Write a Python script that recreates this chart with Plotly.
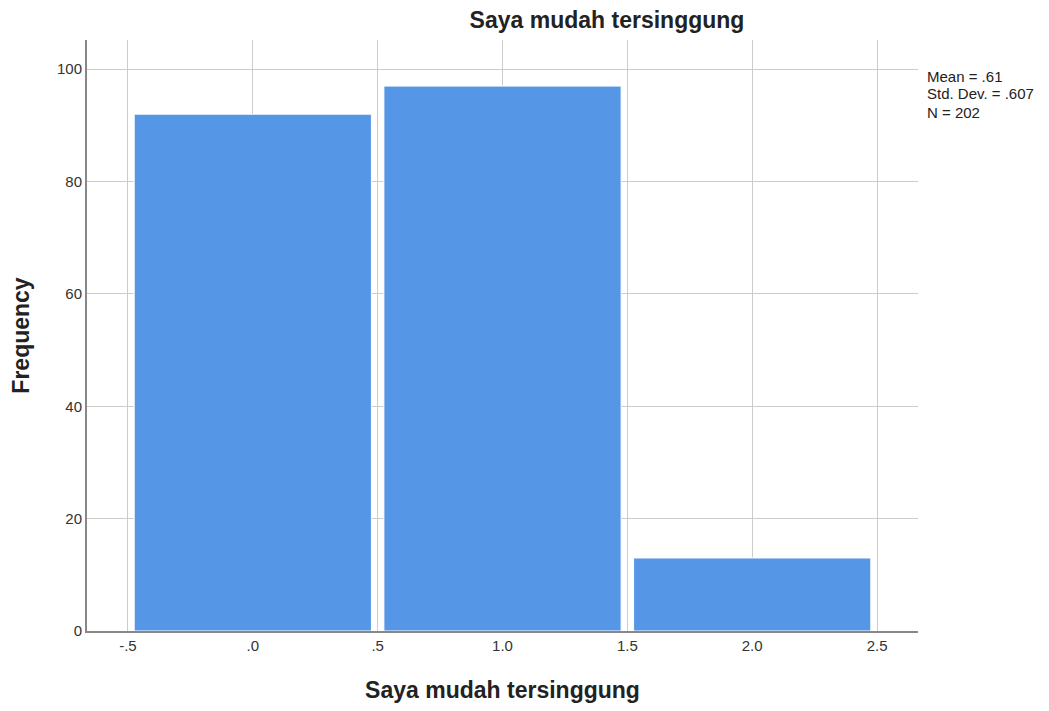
import plotly.graph_objects as go

categories = [0, 1, 2]
frequencies = [92, 97, 13]
x_tick_vals = [-0.5, 0, 0.5, 1, 1.5, 2, 2.5]
x_tick_text = ["-.5", ".0", ".5", "1.0", "1.5", "2.0", "2.5"]
y_tick_vals = [0, 20, 40, 60, 80, 100]
stats_lines = ["Mean = .61", "Std. Dev. = .607", "N = 202"]
title = "Saya mudah tersinggung"

fig = go.Figure()
fig.add_trace(go.Bar(
    x=categories, y=frequencies, width=0.95,
    marker=dict(color="#5596E6", line=dict(color="white", width=1)),
))

font_family = "Liberation Sans, Arial, sans-serif"
stat_ys = [0.939, 0.909, 0.878]
annotations = [
    dict(text=t, xref="paper", yref="paper", x=1.009, y=yy,
         xanchor="left", yanchor="middle", align="left", showarrow=False,
         font=dict(size=15, color="#222222"))
    for t, yy in zip(stats_lines, stat_ys)
]

fig.update_layout(
    width=1049, height=711,
    margin=dict(l=79, r=139, t=32, b=88, autoexpand=False),
    plot_bgcolor="white", paper_bgcolor="white",
    showlegend=False,
    font=dict(family=font_family, size=15, color="#333333"),
    title=dict(text="<b>" + title + "</b>", x=599/1049, xanchor="center",
               y=1 - 12/711, yanchor="middle",
               font=dict(size=23, color="#222222")),
    xaxis=dict(
        range=[-0.664, 2.664], tickvals=x_tick_vals, ticktext=x_tick_text,
        showgrid=True, gridcolor="#cccccc", gridwidth=1,
        showline=True, linecolor="#888888", linewidth=2,
        ticks="", zeroline=False, automargin=False,
        title=dict(text="<b>" + title + "</b>", font=dict(size=23, color="#222222"), standoff=29),
        tickfont=dict(size=15, color="#333333"),
    ),
    yaxis=dict(
        range=[0, 105.2], tickvals=y_tick_vals,
        showgrid=True, gridcolor="#cccccc", gridwidth=1,
        showline=True, linecolor="#888888", linewidth=2,
        ticks="", zeroline=False, automargin=False,
        title=dict(text="<b>Frequency</b>", font=dict(size=23, color="#222222"), standoff=26),
        tickfont=dict(size=15, color="#333333"),
    ),
    annotations=annotations,
)

fig.write_html("out.html")
